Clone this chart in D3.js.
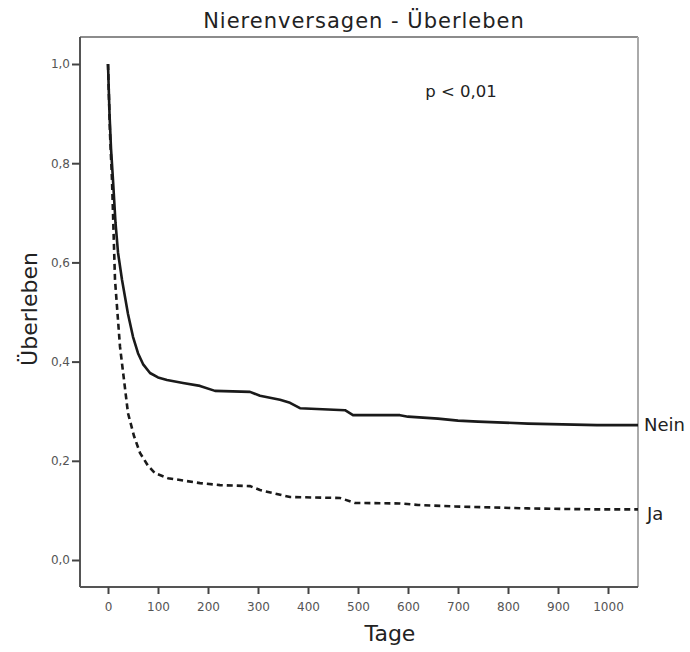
<!DOCTYPE html>
<html>
<head>
<meta charset="utf-8">
<script src="https://cdn.jsdelivr.net/npm/d3@7"></script>
<style>
  body { margin: 0; background: #fff; }
  text { font-family: "DejaVu Sans", Verdana, sans-serif; }
</style>
</head>
<body>
<svg id="chart" width="690" height="652"></svg>
<script>
// Kaplan-Meier curves (Tage, Überleben)
const neinDays = [0, 3, 6, 10, 15, 20, 28, 40, 50, 60, 70, 84, 100, 118, 150, 184, 214, 284, 304, 344, 364, 384, 474, 490, 584, 600, 660, 700, 740, 840, 978, 1060];
const neinSurv = [1.0, 0.9, 0.83, 0.766, 0.68, 0.62, 0.565, 0.496, 0.45, 0.417, 0.395, 0.377, 0.368, 0.363, 0.357, 0.351, 0.341, 0.339, 0.331, 0.323, 0.317, 0.306, 0.302, 0.292, 0.292, 0.289, 0.285, 0.281, 0.279, 0.275, 0.272, 0.272];
const jaDays = [0, 4, 8, 14, 24, 40, 52, 64, 80, 94, 120, 184, 224, 284, 304, 364, 464, 494, 584, 620, 694, 840, 978, 1060];
const jaSurv = [1.0, 0.86, 0.766, 0.565, 0.43, 0.296, 0.25, 0.216, 0.19, 0.175, 0.165, 0.155, 0.151, 0.149, 0.141, 0.127, 0.125, 0.115, 0.114, 0.111, 0.108, 0.104, 0.102, 0.102];

const xTicks = [0, 100, 200, 300, 400, 500, 600, 700, 800, 900, 1000];
const yTicks = [0, 0.2, 0.4, 0.6, 0.8, 1.0];

const svg = d3.select('#chart');
const plotLeft = 80, plotRight = 638, plotTop = 37, plotBottom = 587;

const x = d3.scaleLinear().domain([-56, 1060]).range([plotLeft, plotRight]);
const y = d3.scaleLinear().domain([0, 1]).range([560, 64]);
const fmt = d => d3.format('.1f')(d).replace('.', ',');

// frame: top and right border
svg.append('line').attr('x1', plotLeft).attr('x2', plotRight).attr('y1', plotTop).attr('y2', plotTop)
  .attr('stroke', '#666').attr('stroke-width', 1.5);
svg.append('line').attr('x1', plotRight).attr('x2', plotRight).attr('y1', plotTop).attr('y2', plotBottom)
  .attr('stroke', '#aaa').attr('stroke-width', 2);

const yAxis = svg.append('g')
  .attr('transform', `translate(${plotLeft},0)`)
  .call(d3.axisLeft(y).tickValues(yTicks).tickFormat(fmt).tickSize(8).tickPadding(2).tickSizeOuter(0));
yAxis.select('.domain').attr('d', `M0,${plotTop}V${plotBottom}`);

const xAxis = svg.append('g')
  .attr('transform', `translate(0,${plotBottom})`)
  .call(d3.axisBottom(x).tickValues(xTicks).tickFormat(d3.format('d')).tickSize(7).tickPadding(8).tickSizeOuter(0));
xAxis.select('.domain').attr('d', `M${plotLeft},0H${plotRight}`);

svg.selectAll('.domain').attr('stroke', '#555').attr('stroke-width', 2);
svg.selectAll('.tick line').attr('stroke', '#444').attr('stroke-width', 2);
svg.selectAll('.tick text').attr('fill', '#555').style('font-size', '12px')
  .style('font-family', '"DejaVu Sans", Verdana, sans-serif');

const line = d3.line().x(d => x(d[0])).y(d => y(d[1])).curve(d3.curveLinear);

svg.append('path')
  .datum(neinDays.map((d, i) => [d, neinSurv[i]]))
  .attr('fill', 'none').attr('stroke', '#1a1a1a').attr('stroke-width', 2.6)
  .attr('stroke-linejoin', 'round')
  .attr('d', line);

svg.append('path')
  .datum(jaDays.map((d, i) => [d, jaSurv[i]]))
  .attr('fill', 'none').attr('stroke', '#1a1a1a').attr('stroke-width', 2.6)
  .attr('stroke-dasharray', '6,4')
  .attr('d', line);

// series labels at the right edge
svg.append('text').attr('x', plotRight + 6).attr('y', y(neinSurv[neinSurv.length - 1]) + 6)
  .style('font-size', '18px').attr('fill', '#222')
  .text('Nein');
svg.append('text').attr('x', plotRight + 9).attr('y', y(jaSurv[jaSurv.length - 1]) + 11)
  .style('font-size', '18px').attr('fill', '#222')
  .text('Ja');

svg.append('text').attr('x', 364).attr('y', 28).attr('text-anchor', 'middle')
  .style('font-size', '21px').style('letter-spacing', '1px').attr('fill', '#222')
  .text('Nierenversagen - Überleben');

svg.append('text').attr('x', 461).attr('y', 97).attr('text-anchor', 'middle')
  .style('font-size', '16.5px').attr('fill', '#222')
  .text('p < 0,01');

svg.append('text').attr('x', 390).attr('y', 641).attr('text-anchor', 'middle')
  .style('font-size', '22px').attr('fill', '#222')
  .text('Tage');

svg.append('text').attr('transform', 'translate(37,309) rotate(-90)').attr('text-anchor', 'middle')
  .style('font-size', '22px').attr('fill', '#222')
  .text('Überleben');
</script>
</body>
</html>
